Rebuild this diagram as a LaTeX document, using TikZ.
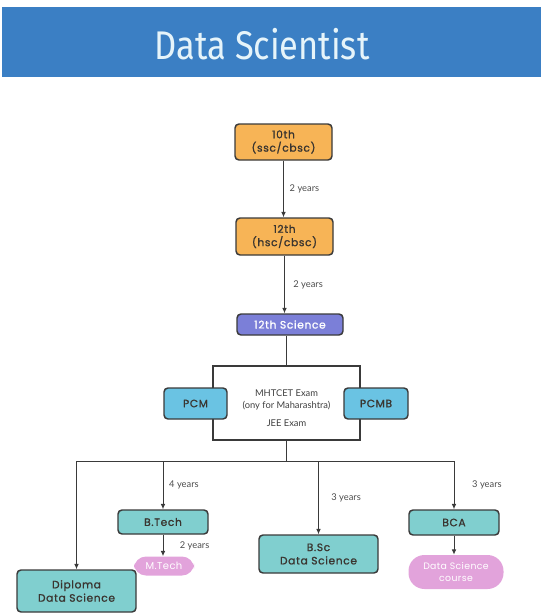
\documentclass[tikz,border=0pt]{standalone}
\usepackage{fontspec}
\usepackage{graphicx}
\usetikzlibrary{arrows.meta}
\newfontfamily\titlefont{Fira Sans}
\newfontfamily\boxfont{Poppins}[FakeBold=1.2,LetterSpace=6]
\newfontfamily\pillfont{Poppins}[LetterSpace=4]
\newfontfamily\lblfont{Lato}

\definecolor{barblue}{HTML}{3B7FC4}
\definecolor{titletxt}{HTML}{E6F4FA}
\definecolor{orangefill}{HTML}{F7B456}
\definecolor{purplefill}{HTML}{7B7FD8}
\definecolor{bluefill}{HTML}{6AC3E3}
\definecolor{tealfill}{HTML}{80CFCF}
\definecolor{pinkfill}{HTML}{E2A3DB}
\definecolor{edge}{HTML}{3A3A3A}
\definecolor{boxtxt}{HTML}{3A3530}

\tikzset{
  basebox/.style={draw=edge,line width=1.1pt,rounded corners=3pt,inner sep=0pt,
    align=center,font=\boxfont\fontsize{8}{10}\selectfont,text=boxtxt},
  orangebox/.style={basebox,fill=orangefill},
  purplebox/.style={basebox,fill=purplefill,text=white},
  bluebox/.style={basebox,fill=bluefill},
  tealbox/.style={basebox,fill=tealfill},
  pinkpill/.style={fill=pinkfill,rounded corners=9pt,inner sep=0pt,align=center,
    text=white,font=\pillfont\fontsize{7.5}{9}\selectfont},
  yearlbl/.style={anchor=west,text=black!70,font=\lblfont\fontsize{7}{8}\selectfont},
  arr/.style={draw=edge,line width=0.7pt,-{Latex[length=4pt,width=3.5pt]}},
  conn/.style={draw=edge,line width=0.7pt},
}

\begin{document}
\begin{tikzpicture}[x=0.75pt,y=-0.75pt]
\useasboundingbox (0,0) rectangle (541,614);

% title bar
\fill[barblue] (2,7) rectangle (541,77);
\node[text=titletxt,font=\titlefont\fontsize{30}{34}\selectfont] (title) at (262,44)
  {\scalebox{0.86}[1]{Data Scientist}};

% school
\node[orangebox,minimum width=72.75pt,minimum height=27pt] (ten) at (283.5,142) {10th\\(ssc/cbsc)};
\node[orangebox,minimum width=72.75pt,minimum height=27.75pt] (twelve) at (284.5,236.5) {12th\\(hsc/cbsc)};
\node[purplebox,minimum width=79.5pt,minimum height=15.75pt] (sci) at (290,324.5) {12th Science};

\draw[arr] (ten.south) -- (ten.south |- twelve.north) node[yearlbl,pos=0.5,xshift=1pt] {2 years};
\draw[arr] (twelve.south) -- (twelve.south |- sci.north) node[yearlbl,pos=0.5,xshift=3pt] {2 years};

% exam block
\node[draw=edge,line width=0.9pt,fill=white,minimum width=110.25pt,minimum height=55.5pt] (exam) at (286.5,403) {};
\node[align=center,font=\lblfont\fontsize{7}{9}\selectfont,text=black!75] (examtxt) at (286.5,408)
  {MHTCET Exam\\(ony for Maharashtra)\\[4pt]JEE Exam};
\node[bluebox,minimum width=47.25pt,minimum height=23.25pt] (pcm) at (195.5,403.5) {PCM};
\node[bluebox,minimum width=48pt,minimum height=23.25pt] (pcmb) at (376,403.5) {PCMB};

\draw[conn] (exam.north) -- (exam.north |- sci.south);

% degrees
\node[tealbox,minimum width=67.5pt,minimum height=18pt] (btech) at (163,522) {B.Tech};
\node[pinkpill,minimum width=45pt,minimum height=14.25pt] (mtech) at (164,566) {M.Tech};
\node[tealbox,minimum width=89.25pt,minimum height=31.5pt] (dip) at (76.5,591) {Diploma\\Data Science};
\node[tealbox,minimum width=89.25pt,minimum height=28.5pt] (bsc) at (318.5,554) {B.Sc\\Data Science};
\node[tealbox,minimum width=67.5pt,minimum height=18.75pt] (bca) at (454,522.5) {BCA};
\node[pinkpill,minimum width=71.25pt,minimum height=25.5pt,rounded corners=12pt,
  font=\pillfont\fontsize{7}{8.5}\selectfont] (dsc) at (456,572) {Data Science\\course};

\coordinate (busL) at (76.5,461);
\coordinate (busR) at (454,461);
\draw[conn] (exam.south) -- (exam.south |- busL);
\draw[conn] (busL) -- (busR);
\draw[arr] (busL) -- (dip.north);
\draw[arr] (btech.north |- busL) -- (btech.north) node[yearlbl,pos=0.5,xshift=1pt] {4 years};
\draw[arr] (bsc.north |- busL) -- (bsc.north) node[yearlbl,pos=0.5,xshift=6pt] {3 years};
\draw[arr] (busR) -- (bca.north) node[yearlbl,pos=0.5,xshift=10pt] {3 years};
\draw[arr] (btech.south) -- (btech.south |- mtech.north) node[yearlbl,pos=0.5,xshift=9pt] {2 years};
\draw[arr] (bca.south) -- (bca.south |- dsc.north);

\end{tikzpicture}
\end{document}
